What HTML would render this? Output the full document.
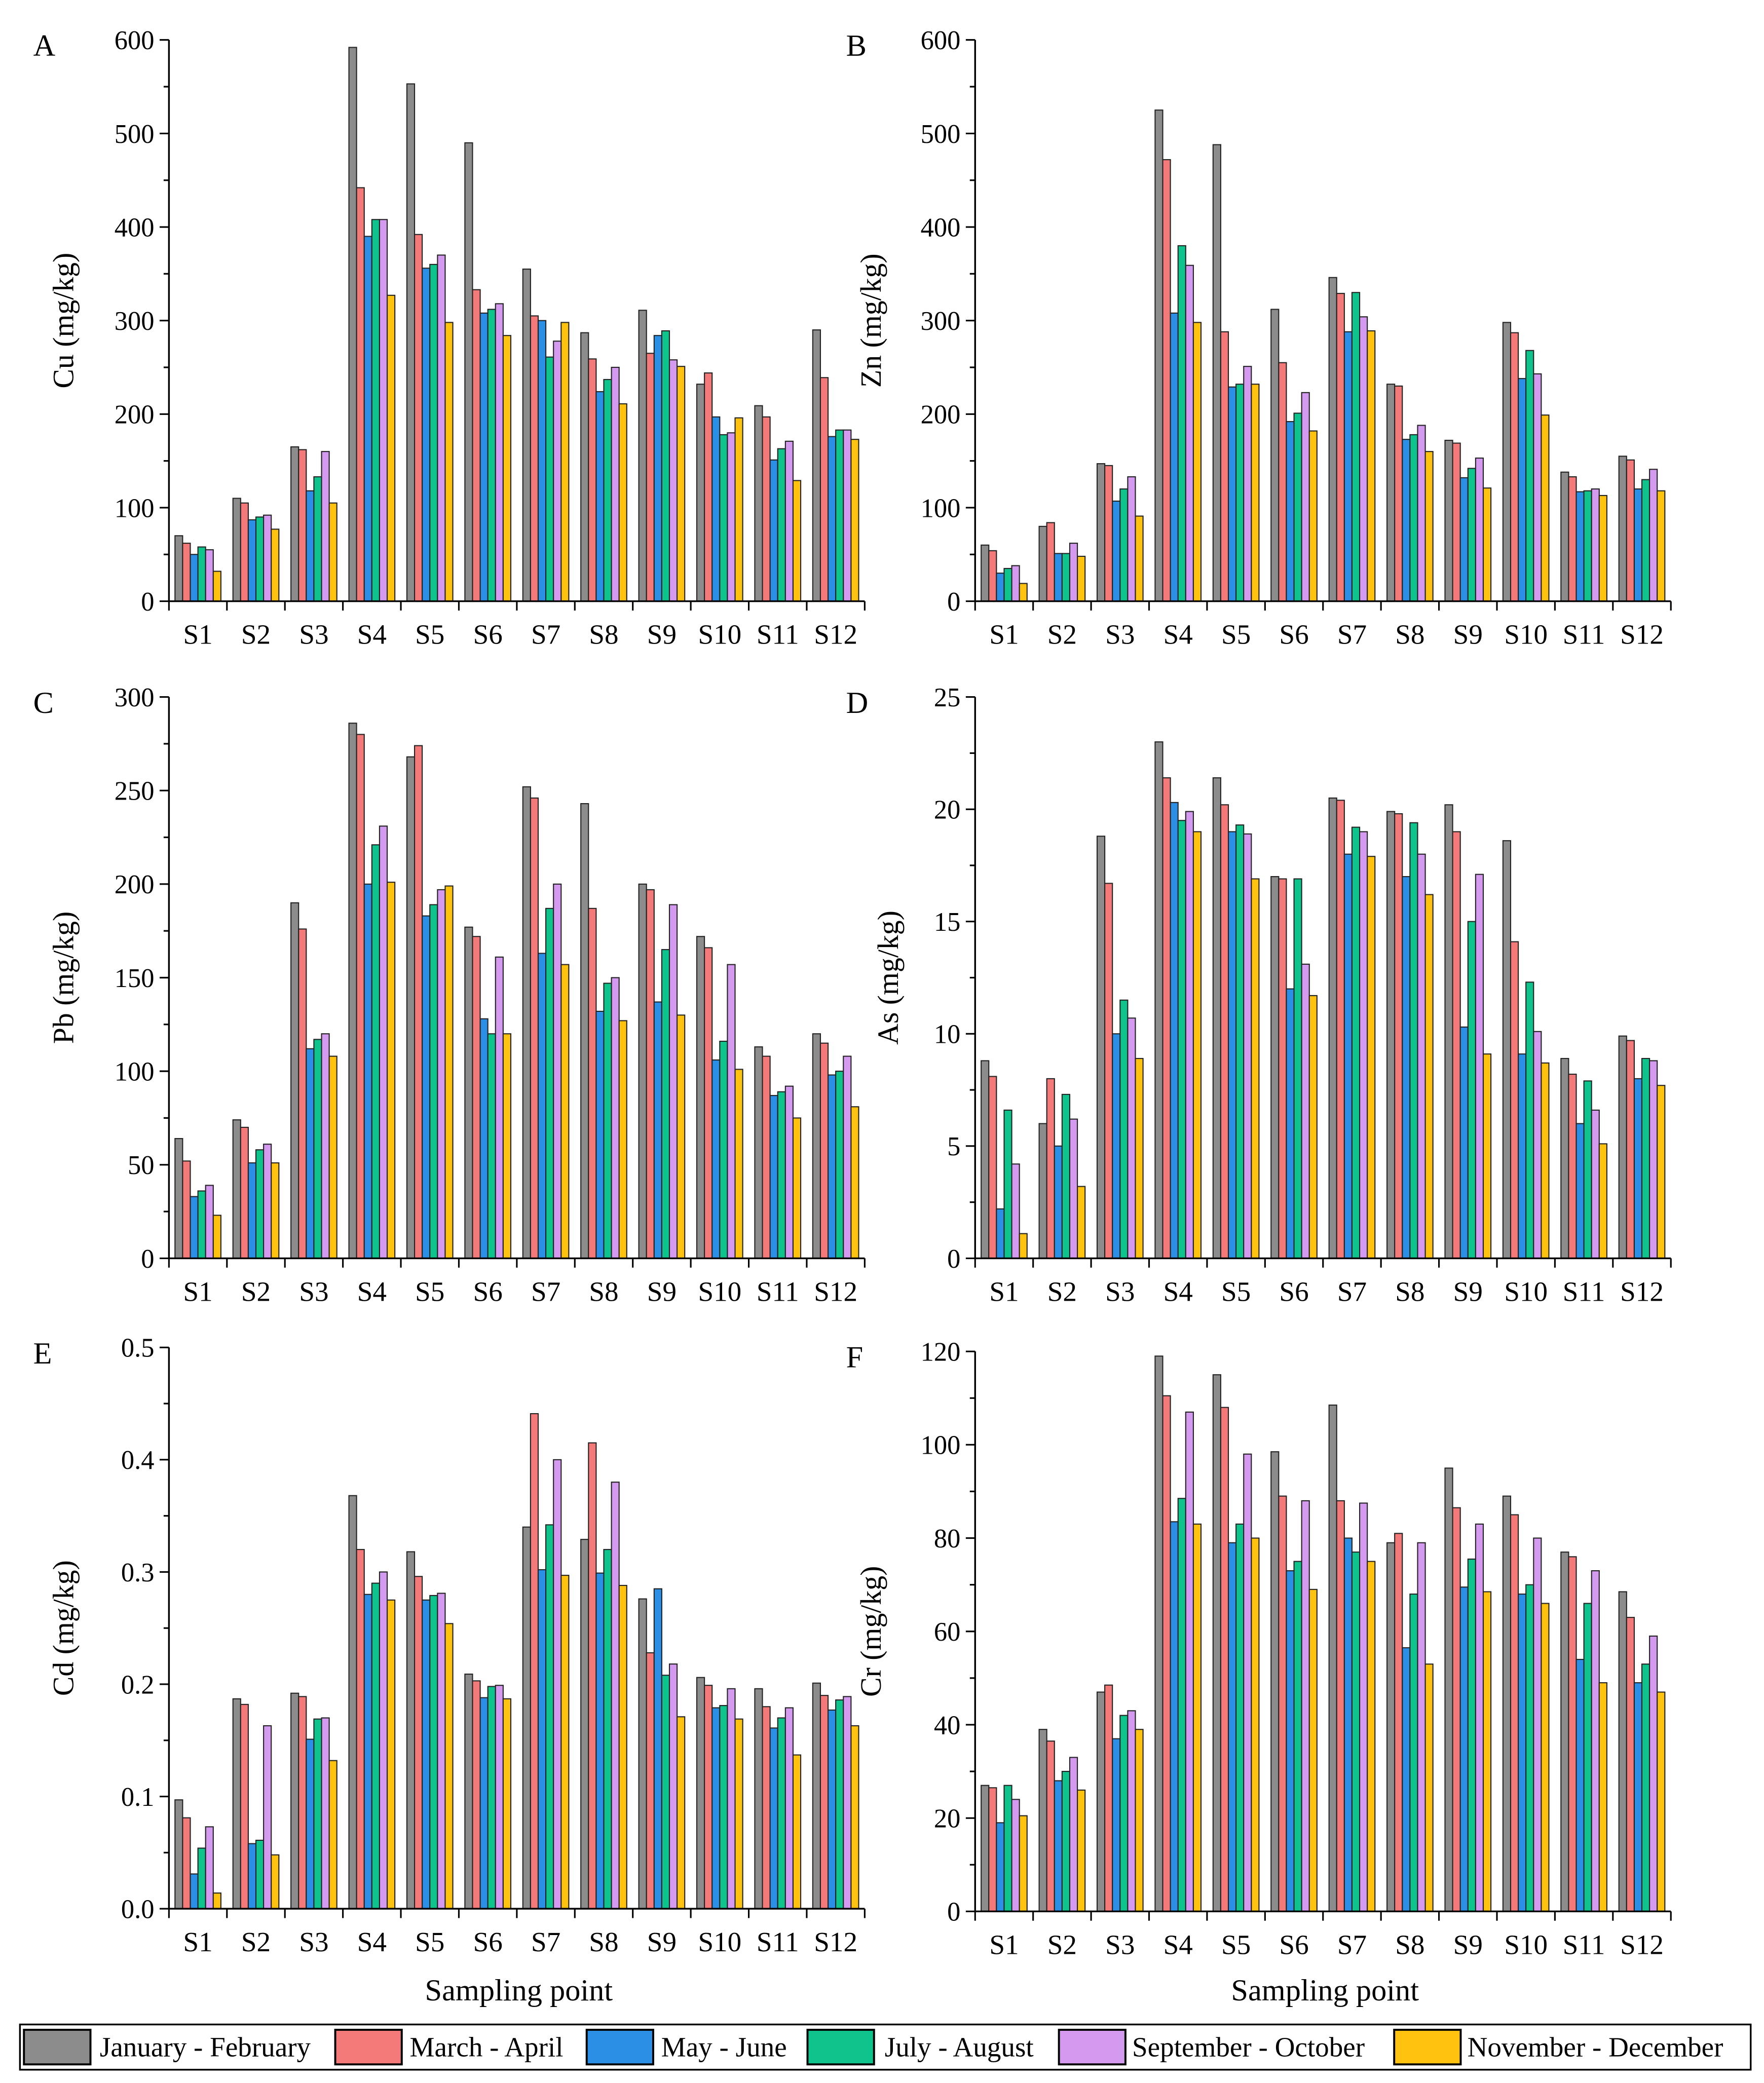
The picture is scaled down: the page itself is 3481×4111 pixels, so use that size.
<!DOCTYPE html>
<html><head><meta charset="utf-8"><style>
html,body{margin:0;padding:0;background:#fff}
svg{display:block}
text{font-family:"Liberation Serif",serif;fill:#000}
</style></head><body>
<svg id="chart" width="3481" height="4111" viewBox="0 0 1326 1566" preserveAspectRatio="none" xmlns="http://www.w3.org/2000/svg">
<rect x="0" y="0" width="1326" height="1566" fill="#fff"/>
</svg>
<script>
const categories=["S1","S2","S3","S4","S5","S6","S7","S8","S9","S10","S11","S12"];
const seriesNames=["January - February","March - April","May - June","July - August","September - October","November - December"];
const seriesColors=["#8c8c8c","#f47a7a","#2b8fe6","#0ec48c","#d39af0","#ffc20e"];
const cuValues=[[70,62,50,58,55,32],[110,105,87,90,92,77],[165,162,118,133,160,105],[592,442,390,408,408,327],[553,392,356,360,370,298],[490,333,308,312,318,284],[355,305,300,261,278,298],[287,259,224,237,250,211],[311,265,284,289,258,251],[232,244,197,178,180,196],[209,197,151,163,171,129],[290,239,176,183,183,173]];
const znValues=[[60,54,30,35,38,19],[80,84,51,51,62,48],[147,145,107,120,133,91],[525,472,308,380,359,298],[488,288,229,232,251,232],[312,255,192,201,223,182],[346,329,288,330,304,289],[232,230,173,178,188,160],[172,169,132,142,153,121],[298,287,238,268,243,199],[138,133,117,118,120,113],[155,151,120,130,141,118]];
const pbValues=[[64,52,33,36,39,23],[74,70,51,58,61,51],[190,176,112,117,120,108],[286,280,200,221,231,201],[268,274,183,189,197,199],[177,172,128,120,161,120],[252,246,163,187,200,157],[243,187,132,147,150,127],[200,197,137,165,189,130],[172,166,106,116,157,101],[113,108,87,89,92,75],[120,115,98,100,108,81]];
const asValues=[[8.8,8.1,2.2,6.6,4.2,1.1],[6.0,8.0,5.0,7.3,6.2,3.2],[18.8,16.7,10.0,11.5,10.7,8.9],[23.0,21.4,20.3,19.5,19.9,19.0],[21.4,20.2,19.0,19.3,18.9,16.9],[17.0,16.9,12.0,16.9,13.1,11.7],[20.5,20.4,18.0,19.2,19.0,17.9],[19.9,19.8,17.0,19.4,18.0,16.2],[20.2,19.0,10.3,15.0,17.1,9.1],[18.6,14.1,9.1,12.3,10.1,8.7],[8.9,8.2,6.0,7.9,6.6,5.1],[9.9,9.7,8.0,8.9,8.8,7.7]];
const cdValues=[[.097,.081,.031,.054,.073,.014],[.187,.182,.058,.061,.163,.048],[.192,.189,.151,.169,.170,.132],[.368,.320,.280,.290,.300,.275],[.318,.296,.275,.279,.281,.254],[.209,.203,.188,.198,.199,.187],[.340,.441,.302,.342,.400,.297],[.329,.415,.299,.320,.380,.288],[.276,.228,.285,.208,.218,.171],[.206,.199,.179,.181,.196,.169],[.196,.180,.161,.170,.179,.137],[.201,.190,.177,.186,.189,.163]];
const crValues=[[27,26.5,19,27,24,20.5],[39,36.5,28,30,33,26],[47,48.5,37,42,43,39],[119,110.5,83.5,88.5,107,83],[115,108,79,83,98,80],[98.5,89,73,75,88,69],[108.5,88,80,77,87.5,75],[79,81,56.5,68,79,53],[95,86.5,69.5,75.5,83,68.5],[89,85,68,70,80,66],[77,76,54,66,73,49],[68.5,63,49,53,59,47]];
const cuTicks=[0,100,200,300,400,500,600];
const znTicks=[0,100,200,300,400,500,600];
const pbTicks=[0,50,100,150,200,250,300];
const asTicks=[0,5,10,15,20,25];
const cdTicks=["0.0","0.1","0.2","0.3","0.4","0.5"];
const crTicks=[0,20,40,60,80,100,120];

const NS="http://www.w3.org/2000/svg";
const svg=document.getElementById("chart");
function mk(tag,attrs,parent){const e=document.createElementNS(NS,tag);for(const k in attrs)e.setAttribute(k,attrs[k]);(parent||svg).appendChild(e);return e;}

const panels=[
 {id:"a",letter:"A",title:"Cu (mg/kg)",vals:cuValues,ticks:cuTicks,x0:127,x1:650,yt:30,yb:452,lx:25,tx:55},
 {id:"b",letter:"B",title:"Zn (mg/kg)",vals:znValues,ticks:znTicks,x0:733,x1:1256,yt:30,yb:452,lx:636,tx:662},
 {id:"c",letter:"C",title:"Pb (mg/kg)",vals:pbValues,ticks:pbTicks,x0:127,x1:650,yt:524,yb:946,lx:25,tx:55},
 {id:"d",letter:"D",title:"As (mg/kg)",vals:asValues,ticks:asTicks,x0:733,x1:1256,yt:524,yb:946,lx:636,tx:675},
 {id:"e",letter:"E",title:"Cd (mg/kg)",vals:cdValues,ticks:cdTicks,x0:127,x1:650,yt:1013,yb:1435,lx:25,tx:55},
 {id:"f",letter:"F",title:"Cr (mg/kg)",vals:crValues,ticks:crTicks,x0:733,x1:1256,yt:1016,yb:1437,lx:636,tx:662}
];
panels.forEach(p=>{
 const g=mk("g",{});
 
 
 const tv=p.ticks.map(Number);
 const ymax=tv[tv.length-1];
 const y=v=>p.yb-(v/ymax)*(p.yb-p.yt);
 const gw=(p.x1-p.x0)/categories.length;
 const bw=gw*0.132;
 p.vals.forEach((row,ci)=>{
  const cx=p.x0+gw*(ci+0.5);
  row.forEach((v,si)=>{
   const r=mk("rect",{x:cx-3*bw+si*bw,y:y(v),width:bw,height:p.yb-y(v),fill:seriesColors[si],stroke:"#222","stroke-width":0.8},g);
   
   
  });
 });
 mk("line",{x1:p.x0,y1:p.yt,x2:p.x0,y2:p.yb,stroke:"#000","stroke-width":1.3},g);
 mk("line",{x1:p.x0,y1:p.yb,x2:p.x1,y2:p.yb,stroke:"#000","stroke-width":1.3},g);
 p.ticks.forEach((t,i)=>{
  const yy=y(Number(t));
  mk("line",{x1:p.x0-7,y1:yy,x2:p.x0,y2:yy,stroke:"#000","stroke-width":1.2},g);
  const tx=mk("text",{x:p.x0-11,y:yy+7,"text-anchor":"end","font-size":20},g);
  tx.textContent=t;
  
  
  if(i<p.ticks.length-1){const ym=y((Number(t)+Number(p.ticks[i+1]))/2);mk("line",{x1:p.x0-4,y1:ym,x2:p.x0,y2:ym,stroke:"#000","stroke-width":1.2},g);}
 });
 for(let i=0;i<=categories.length;i++){const xx=p.x0+gw*i;mk("line",{x1:xx,y1:p.yb,x2:xx,y2:p.yb+7,stroke:"#000","stroke-width":1.2},g);}
 categories.forEach((c,i)=>{
  const t=mk("text",{x:p.x0+gw*(i+0.5),y:p.yb+32,"text-anchor":"middle","font-size":21},g);
  t.textContent=c;
  
  
 });
 const L=mk("text",{x:p.lx,y:p.yt+12,"font-size":23},g);L.textContent=p.letter;
 
 
 const yc=(p.yt+p.yb)/2;
 const T=mk("text",{x:p.tx,y:yc,"text-anchor":"middle","font-size":22,transform:`rotate(-90 ${p.tx} ${yc})`},g);
 T.textContent=p.title;
 
 
});
[[390,"x-axis-title-left"],[996,"x-axis-title-right"]].forEach(([x,n])=>{
 const t=mk("text",{x:x,y:1504,"text-anchor":"middle","font-size":23});t.textContent="Sampling point";
 
 
});
const lg=mk("g",{});


mk("rect",{x:15,y:1522,width:1301,height:34,fill:"#fff",stroke:"#000","stroke-width":1.3},lg);
const sx=[18,252,441,607,796,1048];
const txs=[75,308,497,665,851,1103];
seriesNames.forEach((n,i)=>{
 const e=mk("g",{},lg);
 
 
 mk("rect",{x:sx[i],y:1526,width:50,height:26,fill:seriesColors[i],stroke:"#000","stroke-width":1.5},e);
 const t=mk("text",{x:txs[i],y:1546,"font-size":21},e);t.textContent=n;
});
</script>
</body></html>
